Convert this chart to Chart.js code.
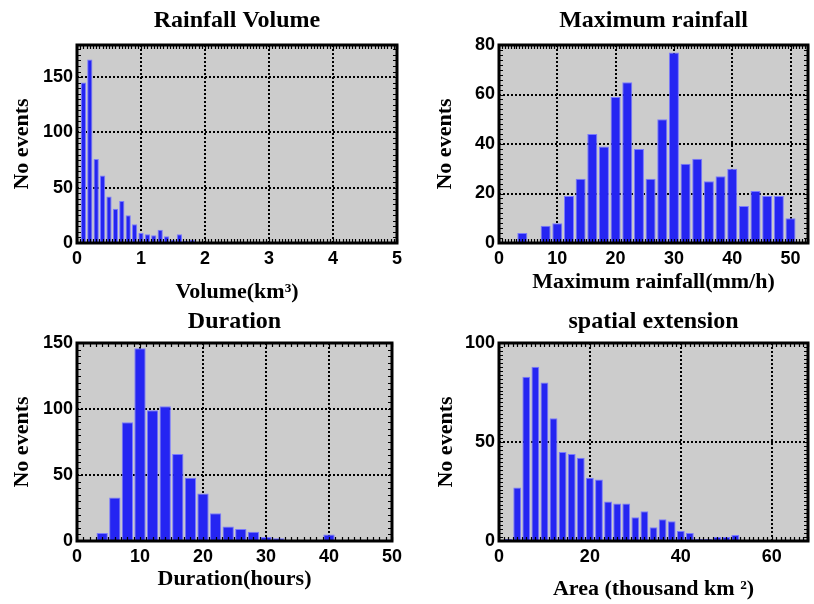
<!DOCTYPE html>
<html>
<head>
<meta charset="utf-8">
<title>Rainfall events</title>
<script src="https://cdn.jsdelivr.net/npm/chart.js@4.4.1/dist/chart.umd.min.js"></script>
<style>
  body { margin: 0; background: #fff; }
  #wrap { position: relative; width: 814px; height: 604px; overflow: hidden; }
  .panel { position: absolute; width: 407px; height: 310px; }
</style>
</head>
<body>
<div id="wrap">
  <div class="panel" style="left:0;top:0"><canvas id="volume" width="407" height="310"></canvas></div>
  <div class="panel" style="left:407px;top:0"><canvas id="maxrain" width="407" height="310"></canvas></div>
  <div class="panel" style="left:0;top:300px"><canvas id="duration" width="407" height="310"></canvas></div>
  <div class="panel" style="left:407px;top:300px"><canvas id="area" width="407" height="310"></canvas></div>
</div>
<script>
// Rainfall volume (km3): bin centres and number of events
const volumeBins = [0.1, 0.2, 0.3, 0.4, 0.5, 0.6, 0.7, 0.8, 0.9, 1.0,
                    1.1, 1.2, 1.3, 1.4, 1.5, 1.6, 1.7, 1.8, 1.9, 2.0];
const volumeCounts = [145, 166, 76, 61, 42, 31, 38, 25, 17, 9,
                      8, 7, 12, 6, 3, 8, 2, 3, 0, 1];
const volumeXTicks = [0, 1, 2, 3, 4, 5];
const volumeYTicks = [0, 50, 100, 150];

// Maximum rainfall intensity (mm/h)
const maxRainBins = [4, 6, 8, 10, 12, 14, 16, 18, 20, 22, 24, 26,
                     28, 30, 32, 34, 36, 38, 40, 42, 44, 46, 48, 50];
const maxRainCounts = [4, 0, 7, 8, 19, 26, 44, 39, 59, 65, 38, 26,
                       50, 77, 32, 34, 25, 27, 30, 15, 21, 19, 19, 10];
const maxRainXTicks = [0, 10, 20, 30, 40, 50];
const maxRainYTicks = [0, 20, 40, 60, 80];

// Event duration (hours)
const durationBins = [4, 6, 8, 10, 12, 14, 16, 18, 20, 22,
                      24, 26, 28, 30, 32, 34, 36, 38, 40];
const durationCounts = [6, 33, 90, 146, 99, 102, 66, 48, 36, 21,
                        11, 9, 7, 3, 2, 0, 0, 0, 5];
const durationXTicks = [0, 10, 20, 30, 40, 50];
const durationYTicks = [0, 50, 100, 150];

// Spatial extension (thousand km2)
const areaBins = [2, 4, 6, 8, 10, 12, 14, 16, 18, 20, 22, 24, 26,
                  28, 30, 32, 34, 36, 38, 40, 42, 44, 46, 48, 50, 52];
const areaCounts = [1, 27, 83, 88, 80, 62, 45, 44, 42, 32, 31, 20, 19,
                    19, 12, 15, 7, 11, 10, 5, 4, 1, 1, 2, 2, 3];
const areaXTicks = [0, 20, 40, 60];
const areaYTicks = [0, 50, 100];

const tickFont = { family: '"Liberation Sans", Arial, sans-serif', size: 18, weight: 'bold' };
const axisFont = { family: '"Liberation Serif", "Times New Roman", serif', size: 22, weight: 'bold', lineHeight: 1.2 };
const titleFont = { family: '"Liberation Serif", "Times New Roman", serif', size: 24, weight: 'bold', lineHeight: 1.2 };

// grey plot area, black frame and small inward ticks on all four sides
const framePlugin = {
  id: 'frame',
  beforeDraw(chart) {
    const { ctx, chartArea: a } = chart;
    ctx.save();
    ctx.fillStyle = '#cccccc';
    ctx.fillRect(a.left, a.top, a.right - a.left, a.bottom - a.top);
    ctx.restore();
  },
  afterDraw(chart, args, opts) {
    const { ctx, chartArea: a, scales } = chart;
    const xs = scales.x, ys = scales.y;
    ctx.save();
    ctx.strokeStyle = '#000';
    ctx.lineWidth = 1.2;
    ctx.beginPath();
    const nx = Math.round((xs.max - xs.min) / opts.xMinor);
    for (let i = 0; i <= nx; i++) {
      const px = Math.round(xs.getPixelForValue(xs.min + i * opts.xMinor)) + 0.5;
      ctx.moveTo(px, a.bottom); ctx.lineTo(px, a.bottom - 4);
      ctx.moveTo(px, a.top); ctx.lineTo(px, a.top + 4);
    }
    const ny = Math.round((ys.max - ys.min) / opts.yMinor);
    for (let i = 0; i <= ny; i++) {
      const py = Math.round(ys.getPixelForValue(ys.min + i * opts.yMinor)) + 0.5;
      ctx.moveTo(a.left, py); ctx.lineTo(a.left + 4, py);
      ctx.moveTo(a.right, py); ctx.lineTo(a.right - 4, py);
    }
    ctx.stroke();
    ctx.lineWidth = 3;
    ctx.strokeRect(a.left, a.top, a.right - a.left, a.bottom - a.top);
    ctx.restore();
  }
};

function histogram(id, p) {
  const gridLine = { color: '#000', lineWidth: 2, drawTicks: false, offset: false };
  const gridBorder = { display: false, dash: [2, 2] };
  return new Chart(document.getElementById(id), {
    type: 'bar',
    data: {
      datasets: [{
        data: p.bins.map((b, i) => ({ x: b, y: p.counts[i] })),
        backgroundColor: '#2525f2',
        borderColor: '#7a7aff',
        borderWidth: 1,
        categoryPercentage: 1,
        barPercentage: p.barPct
      }]
    },
    options: {
      responsive: false,
      animation: false,
      layout: { padding: { left: 0, top: 0, right: p.padRight, bottom: p.padBottom } },
      scales: {
        x: {
          type: 'linear', min: 0, max: p.xMax, z: 1, offset: false,
          afterBuildTicks: s => { s.ticks = p.xTicks.map(v => ({ value: v })); },
          afterFit: s => { s.height = p.xAxisHeight; },
          grid: gridLine, border: gridBorder,
          ticks: { color: '#000', font: tickFont, padding: 5, maxRotation: 0, autoSkip: false },
          title: { display: true, text: p.xTitle, color: '#000', font: axisFont, padding: { top: 0, bottom: 0 } }
        },
        y: {
          min: 0, max: p.yMax, z: 1,
          afterBuildTicks: s => { s.ticks = p.yTicks.map(v => ({ value: v })); },
          afterFit: s => { s.width = p.yAxisWidth; },
          grid: gridLine, border: gridBorder,
          ticks: { color: '#000', font: tickFont, padding: 4, autoSkip: false },
          title: { display: true, text: 'No events', color: '#000', font: axisFont, padding: { top: p.yTitlePad, bottom: 0 } }
        }
      },
      plugins: {
        legend: { display: false },
        tooltip: { enabled: false },
        title: {
          display: true, text: p.title, color: '#000', font: titleFont, fullSize: false,
          padding: { top: p.titleTop, bottom: p.titleBottom }
        },
        frame: { xMinor: p.xMinor, yMinor: p.yMinor }
      }
    },
    plugins: [framePlugin]
  });
}

histogram('volume', {
  title: 'Rainfall Volume', xTitle: 'Volume(km³)',
  bins: volumeBins, counts: volumeCounts, xTicks: volumeXTicks, yTicks: volumeYTicks,
  xMax: 5, yMax: 179, xMinor: 0.05, yMinor: 5, barPct: 0.82,
  padRight: 9, padBottom: 4, xAxisHeight: 63, yAxisWidth: 77, yTitlePad: 8.8,
  titleTop: 6.6, titleBottom: 9.6
});

histogram('maxrain', {
  title: 'Maximum rainfall', xTitle: 'Maximum rainfall(mm/h)',
  bins: maxRainBins, counts: maxRainCounts, xTicks: maxRainXTicks, yTicks: maxRainYTicks,
  xMax: 53, yMax: 80, xMinor: 0.5, yMinor: 2, barPct: 0.86,
  padRight: 6, padBottom: 14, xAxisHeight: 53, yAxisWidth: 92, yTitlePad: 24.8,
  titleTop: 6.6, titleBottom: 9.6
});

histogram('duration', {
  title: 'Duration', xTitle: 'Duration(hours)',
  bins: durationBins, counts: durationCounts, xTicks: durationXTicks, yTicks: durationYTicks,
  xMax: 50, yMax: 150, xMinor: 1, yMinor: 5, barPct: 0.9,
  padRight: 9, padBottom: 17, xAxisHeight: 52, yAxisWidth: 77, yTitlePad: 8.8,
  titleTop: 7.6, titleBottom: 6.6
});

histogram('area', {
  title: 'spatial extension', xTitle: 'Area (thousand km ²)',
  bins: areaBins, counts: areaCounts, xTicks: areaXTicks, yTicks: areaYTicks,
  xMax: 68, yMax: 100, xMinor: 1, yMinor: 2, barPct: 0.86,
  padRight: 6, padBottom: 7, xAxisHeight: 62, yAxisWidth: 92, yTitlePad: 25.8,
  titleTop: 7.6, titleBottom: 6.6
});
</script>
</body>
</html>
